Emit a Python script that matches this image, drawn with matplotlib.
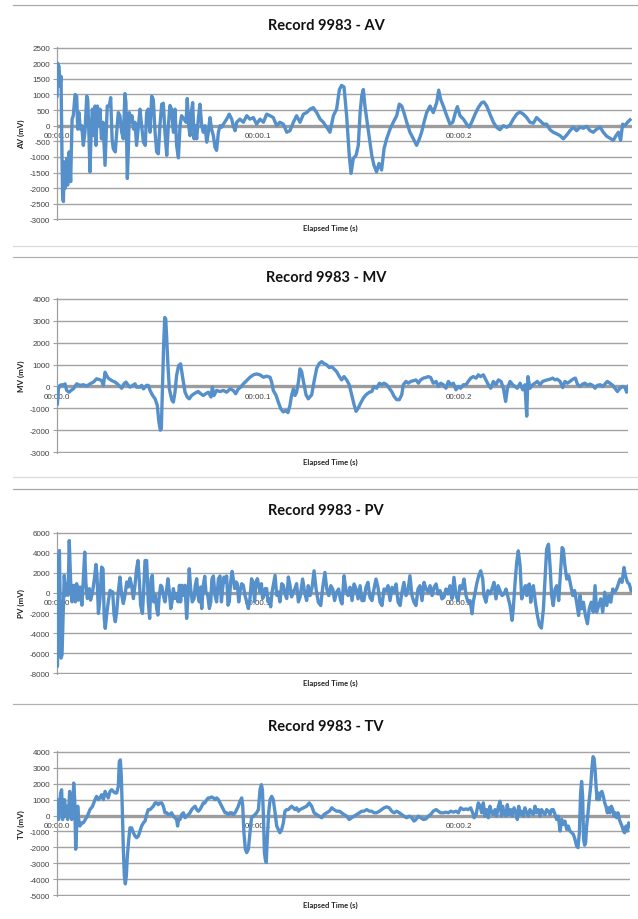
import matplotlib

matplotlib.use("Agg")
import matplotlib.pyplot as plt
from matplotlib.lines import Line2D

plt.rcParams["axes.unicode_minus"] = False

# time (ms) and value (mV) pairs
av_points = [
    (0.0, 950), (0.3, 2000), (1.0, 1900), (1.5, 1270), (2.0, 1580), (2.5, -1050), (2.8, -2320),
    (3.2, -2430), (3.6, -1160), (4.1, -2000), (4.8, -1050), (5.3, -1900), (6.0, -840), (6.8, -1790),
    (7.5, 210), (8.1, 320), (9.0, 1000), (9.8, 950), (10.3, -110), (10.9, 420), (11.6, -110),
    (12.3, 0), (13.1, -630), (13.9, -210), (14.8, 950), (15.3, 840), (15.9, -320), (16.4, -1480),
    (17.1, 0), (17.6, 530), (18.2, -320), (18.9, 630), (19.4, -630), (20.1, 630), (20.7, 0),
    (21.4, 530), (22.1, -420), (22.9, 110), (23.9, -1270), (24.4, -420), (25.0, 630), (26.0, 630),
    (26.7, 900), (27.4, -420), (28.0, -740), (29.0, -840), (29.7, -210), (30.5, 420), (31.3, 320),
    (32.2, -210), (33.0, -420), (33.8, 1030), (34.3, 740), (35.0, -1690), (35.5, -740), (36.0, 420),
    (36.7, 110), (37.3, 320), (38.1, -110), (38.8, 110), (39.6, -630), (40.5, 0), (41.3, 530),
    (42.1, 0), (43.0, -530), (43.9, -630), (44.6, 420), (45.4, 530), (46.3, -210), (47.1, 950),
    (47.9, 840), (48.8, -210), (49.6, -840), (50.4, -900), (51.2, 0), (52.1, 690), (52.9, 720),
    (53.7, -210), (54.6, -950), (55.4, 0), (56.2, 650), (57.0, 530), (57.9, -210), (58.7, 530),
    (59.5, -630), (60.4, -1030), (61.2, 0), (62.0, 320), (63.2, 210), (64.2, 110), (64.8, 870),
    (65.5, 0), (66.2, -320), (66.8, 420), (67.5, 740), (68.2, -420), (68.7, 0), (69.5, -420),
    (70.3, 210), (71.1, 690), (72.0, 0), (72.8, -210), (73.6, 0), (74.5, -530), (75.3, -210),
    (76.1, 260), (76.9, -110), (77.8, -320), (78.6, -690), (79.4, -790), (80.3, -210), (81.1, 0),
    (81.9, -50), (82.8, 50), (84.4, 210), (85.7, 370), (86.9, 210), (87.7, 0), (88.6, -160),
    (89.4, 110), (91.0, 210), (92.7, 110), (94.4, 320), (96.0, 210), (97.7, 260), (99.3, 50),
    (101.0, 210), (102.7, 110), (104.3, 370), (106.0, 320), (107.6, 260), (109.3, 0), (110.9, 110),
    (112.6, 50), (114.3, -210), (115.9, -160), (117.6, 110), (119.2, 320), (120.9, 110),
    (122.6, 370), (124.2, 420), (125.9, 530), (127.5, 580), (129.2, 420), (130.9, 210), (132.5, 110),
    (134.2, -50), (135.8, -210), (137.5, 320), (139.1, 530), (140.5, 1160), (141.6, 1290),
    (142.8, 1240), (144.1, 320), (145.4, -950), (146.3, -1530), (147.4, -1050), (148.8, -950),
    (149.9, -630), (150.8, 420), (151.6, 950), (152.4, 1160), (153.2, 630), (154.1, 210),
    (155.4, -420), (156.6, -950), (157.7, -1270), (159.0, -1480), (160.2, -1210), (161.5, -1420),
    (162.7, -740), (164.0, -420), (165.7, -110), (167.3, 110), (169.0, 320), (170.3, 690),
    (171.5, 630), (172.6, 420), (174.0, 110), (175.6, -210), (177.3, -420), (178.9, -630),
    (180.3, -420), (181.4, -210), (182.6, 110), (183.9, 420), (185.6, 630), (187.2, 420),
    (188.9, 740), (189.9, 1140), (190.9, 840), (192.2, 630), (193.9, 320), (195.5, 50), (196.9, 110),
    (198.2, 420), (199.2, 610), (200.5, 320), (202.2, 210), (203.8, 50), (205.1, -50), (206.3, 110),
    (208.0, 370), (209.6, 580), (211.3, 740), (212.4, 760), (213.8, 630), (215.4, 370), (217.1, 110),
    (218.7, -50), (220.4, -130), (222.1, 0), (223.7, -50), (225.4, 20), (227.0, 210), (228.7, 370),
    (230.3, 440), (232.0, 370), (233.7, 260), (235.3, 110), (237.0, 80), (238.6, 260), (240.3, 160),
    (242.0, 50), (243.6, 50), (245.3, -130), (246.9, -210), (248.6, -260), (250.3, -320),
    (251.9, -420), (253.6, -300), (255.2, -160), (256.9, -50), (258.5, -160), (260.2, -50),
    (261.9, -80), (263.5, -20), (265.2, -160), (266.8, -210), (268.5, -110), (270.2, -50),
    (271.8, -210), (273.5, -340), (275.1, -400), (276.8, -470), (278.1, -320), (279.3, -210),
    (280.4, -470), (281.4, 50), (282.6, 0), (283.8, 110), (285.1, 190),
]

mv_points = [
    (0.2, -790), (0.7, -110), (1.5, 50), (2.3, 80), (3.2, 50), (4.0, 120), (4.8, -180), (6.0, -260),
    (7.0, -180), (8.1, -110), (9.8, 120), (11.4, 50), (13.1, 80), (14.8, 20), (16.4, 120),
    (18.1, 200), (19.7, 350), (20.9, 320), (22.2, 270), (23.1, 50), (23.9, 650), (24.7, 500),
    (25.5, 380), (27.2, 270), (28.9, 200), (30.5, 80), (32.2, -80), (33.3, 120), (34.3, 200),
    (35.5, 50), (36.3, -30), (37.6, 50), (38.8, 120), (39.6, -30), (41.3, -30), (42.1, 50),
    (43.0, -110), (44.6, 50), (45.4, 50), (46.3, -180), (47.6, -410), (48.8, -560), (49.9, -860),
    (50.7, -1620), (51.4, -1990), (51.9, -1920), (52.4, -260), (53.1, 2010), (53.6, 3140),
    (54.1, 3070), (54.6, 2160), (55.2, 950), (55.9, -110), (56.6, -410), (57.2, -630), (57.9, -710),
    (58.7, -260), (59.5, 500), (60.5, 950), (61.5, 1030), (62.5, 420), (63.7, -260), (64.8, -480),
    (65.8, -560), (67.0, -410), (68.2, -330), (69.5, -260), (70.3, -230), (71.5, -330), (72.8, -410),
    (74.0, -330), (75.3, -260), (76.6, -480), (77.3, -30), (78.1, -410), (79.4, -180), (81.1, -230),
    (82.8, -180), (84.4, -260), (86.1, -110), (87.7, -180), (88.9, -330), (90.2, -110), (91.4, -30),
    (92.7, 120), (94.4, 270), (96.0, 420), (97.7, 530), (99.3, 570), (101.0, 530), (102.7, 420),
    (104.3, 470), (106.0, 420), (106.8, 200), (107.6, -180), (109.0, -410), (110.1, -710),
    (111.3, -1010), (112.6, -1160), (113.8, -1090), (114.9, -1190), (115.9, -860), (116.7, -410),
    (117.6, -110), (118.4, -410), (119.2, -260), (120.1, 200), (120.9, 800), (121.7, 680),
    (122.6, 230), (123.9, -380), (125.0, -560), (126.7, -380), (127.9, 230), (129.2, 830),
    (130.5, 1050), (131.7, 1130), (132.8, 1050), (134.2, 980), (135.5, 860), (136.7, 900),
    (137.8, 800), (139.1, 680), (140.5, 450), (141.6, 300), (142.8, 450), (144.1, 300), (145.4, 80),
    (146.6, -380), (147.8, -830), (148.8, -1130), (149.9, -980), (151.1, -750), (152.4, -530),
    (153.7, -380), (155.4, -260), (156.6, -230), (157.7, 0), (159.0, -80), (160.4, 150), (161.5, 80),
    (162.7, 150), (164.0, 80), (165.3, -80), (166.5, -230), (167.7, -450), (169.0, -600),
    (170.3, -600), (171.5, -380), (172.3, 80), (173.6, 230), (174.8, 150), (176.0, 230), (177.3, 260),
    (178.6, 300), (179.8, 150), (180.9, 300), (182.3, 380), (183.6, 410), (184.7, 450), (185.9, 410),
    (187.2, 150), (188.6, 230), (189.7, 0), (190.9, 150), (192.2, 80), (193.5, -80), (194.7, 230),
    (195.9, 80), (197.2, 150), (198.5, -150), (199.7, 0), (200.8, -80), (202.2, 80), (203.5, 80),
    (204.6, 230), (205.8, 380), (207.1, 450), (208.5, 380), (209.6, 530), (210.8, 450), (212.1, 530),
    (213.4, 300), (214.6, 80), (215.8, -80), (217.1, 230), (218.4, 80), (219.6, 300), (220.9, 230),
    (222.1, -80), (223.2, -680), (224.1, -80), (225.4, 230), (226.7, 80), (227.9, 0), (229.0, -80),
    (230.4, 150), (231.7, -150), (232.8, 80), (233.7, -1350), (234.3, 450), (235.3, -80), (236.7, 80),
    (237.8, 150), (239.0, 230), (240.3, 80), (241.6, 230), (242.8, 270), (243.9, 300), (245.3, 330),
    (246.6, 380), (247.8, 300), (248.9, 330), (250.3, 230), (251.6, -50), (252.7, 230), (253.9, 150),
    (255.2, 230), (256.6, 330), (257.9, 380), (258.9, 110), (260.2, 0), (261.5, 110), (262.7, 150),
    (263.9, 50), (265.2, 110), (266.5, 50), (267.7, -80), (268.8, 50), (270.2, 80), (271.5, 0),
    (272.6, 110), (273.8, 230), (275.1, 150), (276.5, 50), (277.6, -80), (278.8, -230), (280.1, -80),
    (281.4, 0), (282.6, -50), (283.4, -260), (284.2, 0),
]

pv_points = [
    (0.0, 3720), (0.2, -7300), (1.2, 4210), (2.0, -6480), (2.5, -6150), (3.2, -890), (3.6, 1740),
    (4.3, -230), (4.8, 920), (5.5, -230), (6.1, 5200), (6.8, 1090), (7.5, -890), (8.3, 760),
    (9.1, -890), (9.8, 920), (10.6, -720), (11.4, 590), (12.4, -1220), (13.1, 1410), (13.8, 4050),
    (14.4, 920), (15.1, -560), (16.1, 430), (16.7, -720), (17.7, 100), (18.6, 1410), (19.4, 2830),
    (19.9, 1740), (20.6, -2040), (21.4, -560), (22.2, 2570), (22.9, 2400), (23.5, -2530),
    (24.0, -3520), (24.7, -2200), (25.5, -890), (26.4, 260), (27.2, 100), (27.7, 100), (28.4, -2200),
    (29.0, -2860), (29.7, -1880), (30.5, 100), (31.3, 1580), (32.2, -230), (33.0, -1050),
    (33.8, -230), (34.7, 1090), (35.5, 590), (36.3, 1480), (37.1, 760), (38.0, -560), (38.8, 760),
    (39.6, 2400), (40.3, 3220), (41.0, 1090), (41.6, -1220), (42.5, -2040), (43.0, -230),
    (43.8, 3220), (44.6, 3220), (45.4, -890), (46.1, -2530), (46.8, 1410), (47.4, 1740), (48.1, -890),
    (48.9, -230), (49.6, -1550), (50.2, -2200), (50.9, -230), (51.6, 760), (52.2, 590), (52.9, -230),
    (53.7, -890), (54.6, 430), (55.2, 1410), (55.9, 100), (56.6, -1550), (57.2, -890), (57.9, 430),
    (58.7, -560), (59.5, -70), (60.2, -890), (60.9, 760), (61.5, -890), (62.2, 760), (62.9, -230),
    (63.7, 760), (64.5, -2530), (65.2, -230), (65.8, 2400), (66.5, 430), (67.3, -890), (68.2, -560),
    (68.8, 760), (69.5, 1410), (70.1, -230), (70.8, -890), (71.5, 590), (72.0, -1550), (72.8, 760),
    (73.5, 1650), (74.1, 100), (75.0, -230), (75.8, -1550), (76.5, -890), (77.1, 1410), (77.8, 1680),
    (78.6, -230), (79.4, -890), (80.3, 1410), (81.1, 1680), (81.8, -890), (82.4, 430), (83.1, 1580),
    (83.7, 1090), (84.4, 1680), (85.1, -1220), (85.7, -890), (86.4, 1090), (87.1, 2140), (87.7, 1410),
    (88.4, 430), (89.1, 1090), (89.7, 920), (90.4, -890), (91.0, 100), (91.9, 920), (92.7, 760),
    (93.5, -230), (94.4, -890), (95.2, -1550), (96.0, -560), (96.8, 1410), (97.7, 920), (98.3, -890),
    (99.0, 1090), (99.7, 1410), (100.3, 760), (101.0, 100), (101.7, 920), (102.3, -560),
    (103.0, -230), (103.6, 430), (104.3, 430), (105.0, -890), (105.6, -560), (106.3, -1380),
    (107.0, 100), (107.6, 760), (108.5, 1740), (109.3, -230), (110.1, 100), (110.9, -890),
    (111.8, 920), (112.6, 760), (113.4, -70), (114.3, -560), (115.1, 1580), (115.9, 760),
    (116.7, -390), (117.6, 100), (118.4, 430), (119.2, 920), (120.1, -890), (120.9, -430),
    (122.2, 1380), (123.2, 70), (124.2, -760), (125.0, 720), (125.9, -260), (126.9, 560),
    (127.9, 2200), (128.9, 390), (130.0, -920), (131.2, -1250), (132.2, 560), (133.3, 2040),
    (134.2, 390), (135.2, -260), (136.2, 720), (137.2, 390), (138.1, -760), (139.1, 70), (140.1, 390),
    (141.1, -760), (141.8, -1090), (142.8, 1710), (143.8, 230), (144.8, -260), (145.8, 560),
    (146.8, -760), (147.8, 890), (148.8, 390), (149.8, -590), (150.8, 720), (151.7, -760),
    (152.7, -760), (153.7, 560), (154.7, 1050), (155.7, -430), (156.7, -760), (157.7, 390),
    (158.7, 1380), (159.7, 560), (160.7, -920), (161.7, -1250), (162.7, 390), (163.7, 230),
    (164.7, 720), (165.7, -760), (166.7, 560), (167.7, 70), (168.7, 890), (169.7, -920),
    (170.7, -1250), (171.6, 70), (172.6, 1050), (173.6, -260), (174.6, 230), (175.6, 1710),
    (176.6, -260), (177.6, -920), (178.6, -1250), (179.6, 390), (180.6, 720), (181.6, -760),
    (182.6, 1050), (183.6, 390), (184.6, 70), (185.6, 720), (186.6, -260), (187.6, 560), (188.6, 890),
    (189.6, -100), (190.6, 230), (191.5, -590), (192.5, -430), (193.5, 390), (194.5, -100),
    (195.5, 720), (196.5, -590), (197.5, 1550), (198.5, -260), (199.5, -760), (200.5, 720),
    (201.5, 390), (202.5, 1380), (203.5, -260), (204.5, -920), (205.5, -760), (206.5, -2070),
    (207.1, -920), (208.0, 70), (208.8, 890), (209.8, 1710), (210.8, 2200), (211.8, 1380),
    (212.4, -260), (213.4, -920), (214.4, 230), (215.4, -100), (216.4, 390), (217.4, 1050),
    (218.4, -590), (219.4, 720), (220.4, 230), (221.4, -260), (222.4, -100), (223.4, 390),
    (224.4, -430), (225.4, -1250), (226.4, -2730), (227.0, -1580), (227.9, 1050), (228.7, 3030),
    (229.5, 4180), (230.4, 2700), (231.2, -590), (232.0, 70), (233.0, 720), (233.7, -260),
    (234.3, 720), (235.0, 890), (235.7, -920), (236.3, 390), (237.0, 720), (238.0, -920),
    (239.0, -2240), (240.0, -3220), (241.0, -3490), (242.0, -1580), (242.8, 1380), (243.6, 4340),
    (244.5, 4840), (245.3, 2700), (246.1, -260), (246.9, -1250), (247.8, 390), (248.6, 720),
    (249.6, -760), (250.3, 1380), (251.3, 4510), (251.9, 4340), (252.7, 2700), (253.6, 1380),
    (254.6, 1710), (255.6, 720), (256.6, -260), (257.5, 230), (258.5, -920), (259.5, -2240),
    (260.2, -260), (261.0, -1580), (261.9, -920), (262.9, -2240), (263.9, -3060), (264.8, -1580),
    (265.8, -920), (266.8, -1910), (267.7, 720), (268.5, -1910), (269.5, -1250), (270.5, -590),
    (271.5, -1910), (272.5, 70), (273.5, -1250), (274.5, -260), (275.5, -920), (276.5, 390),
    (277.5, 70), (278.4, 390), (279.3, 890), (280.1, 1380), (281.1, 1050), (282.1, 2530),
    (282.8, 1710), (283.8, 1050), (284.7, 890), (285.6, 230),
]

tv_points = [
    (0.0, 990), (0.3, 790), (0.8, -250), (1.3, 580), (1.8, 1410), (2.3, 1610), (2.8, -250),
    (3.3, 370), (3.8, 990), (4.3, -40), (4.8, 580), (5.3, -250), (5.8, 370), (6.3, 1510), (6.8, 990),
    (7.3, -250), (7.8, 170), (8.3, 2030), (8.8, 990), (9.3, -2110), (9.8, -660), (10.3, 580),
    (10.8, -250), (11.4, -660), (12.3, -460), (13.1, -460), (14.1, -250), (15.1, -40), (16.4, 370),
    (17.7, 580), (18.9, 990), (19.7, 1200), (20.6, 990), (21.4, 1100), (22.2, 1300), (23.1, 990),
    (23.9, 1510), (24.7, 1300), (25.5, 1100), (26.4, 1510), (27.2, 1610), (28.0, 1510), (28.9, 1410),
    (29.7, 1410), (30.5, 1820), (31.0, 3370), (31.5, 3480), (32.0, 2440), (32.5, 370), (33.0, -2110),
    (33.5, -3770), (34.0, -4280), (34.5, -3770), (35.0, -2530), (35.7, -1490), (36.3, -770),
    (37.1, -770), (38.0, -1080), (38.8, -1280), (39.6, -1390), (40.5, -1280), (41.3, -970),
    (42.1, -660), (43.0, -460), (43.8, -350), (44.6, 60), (45.4, 370), (46.3, 370), (47.1, 480),
    (47.9, 580), (48.8, 790), (49.6, 790), (50.4, 680), (51.2, 790), (52.1, 790), (52.9, 580),
    (53.7, 170), (54.6, 170), (55.4, 60), (56.2, 60), (57.0, 170), (57.9, -40), (58.7, -140),
    (59.5, -250), (60.0, -660), (60.5, -250), (61.2, -250), (62.0, 60), (62.9, 170), (63.7, -140),
    (64.5, -40), (65.3, 60), (66.2, 170), (67.0, 370), (67.8, 480), (68.7, 580), (69.5, 370),
    (70.3, 270), (71.1, 370), (72.0, 580), (72.8, 790), (73.6, 790), (74.5, 990), (75.3, 1100),
    (76.1, 1100), (76.9, 1160), (77.8, 1100), (78.6, 990), (79.4, 1100), (80.3, 990), (81.1, 790),
    (81.9, 580), (82.8, 370), (83.6, 170), (84.4, 170), (85.2, 60), (86.1, 170), (86.9, 170),
    (87.7, 60), (88.6, 170), (89.4, 370), (90.2, 580), (91.0, 890), (91.9, 1100), (92.4, 580),
    (93.0, -1080), (93.7, -2110), (94.4, -2320), (95.2, -2110), (96.0, -1080), (96.8, -140),
    (97.7, -40), (98.5, 60), (99.3, 170), (100.2, 370), (101.0, 1610), (101.7, 1930), (102.2, 1610),
    (102.7, -40), (103.2, -2320), (103.6, -2730), (104.1, -2940), (104.6, -1490), (105.3, 170),
    (106.0, 990), (106.8, 1200), (107.6, 990), (108.5, 170), (109.3, -660), (110.1, -870),
    (110.9, -1080), (111.8, -870), (112.6, -460), (113.4, 270), (114.3, 370), (115.1, 370),
    (115.9, 480), (116.7, 580), (117.6, 480), (118.4, 370), (119.2, 480), (120.1, 270), (120.9, 370),
    (122.6, 480), (124.2, 580), (125.5, 790), (126.7, 580), (127.9, 170), (129.2, 60), (130.5, -40),
    (131.7, -140), (132.8, 60), (134.2, 170), (135.5, 270), (136.7, 480), (137.8, 370), (139.1, 270),
    (140.5, 270), (141.6, 170), (142.8, 60), (144.1, -40), (145.4, -250), (146.6, -140), (147.8, -40),
    (149.1, 60), (150.4, 170), (151.6, 270), (152.7, 270), (154.1, 370), (155.4, 270), (156.6, 270),
    (157.7, 170), (159.0, 170), (160.4, 270), (161.5, 370), (162.7, 480), (164.0, 540), (165.3, 480),
    (166.5, 270), (167.7, 170), (169.0, 270), (170.3, 170), (171.5, 60), (172.6, -40), (174.0, -140),
    (175.3, -40), (176.5, -140), (177.6, -350), (178.6, -250), (179.8, -40), (180.9, -140),
    (182.3, -250), (183.6, -210), (184.7, -40), (185.9, 60), (187.2, 270), (188.6, 370), (189.7, 270),
    (190.9, 170), (192.2, 170), (193.5, 210), (194.7, 170), (195.9, 270), (197.2, 210), (198.5, 270),
    (199.7, 170), (200.8, 480), (202.2, 370), (203.5, 410), (204.6, 370), (205.8, 480), (206.8, 170),
    (207.5, -140), (208.5, 60), (209.6, 790), (210.5, 580), (211.3, 170), (212.1, 790), (212.9, -40),
    (213.8, 370), (214.6, -140), (215.4, 580), (216.3, 170), (217.1, 60), (217.9, 370), (218.7, -40),
    (219.6, 580), (220.4, 890), (221.1, -40), (221.7, 580), (222.4, 170), (223.4, -40), (224.0, 680),
    (224.9, 60), (225.7, 370), (226.5, -40), (227.4, 480), (228.4, 170), (229.0, -250), (229.7, 580),
    (230.4, 60), (231.2, 270), (232.0, -40), (232.8, 480), (233.7, 170), (234.5, -40), (235.3, 370),
    (236.2, 170), (237.0, 60), (237.8, 580), (238.6, 170), (239.5, 370), (240.3, -40), (241.1, 370),
    (242.0, 170), (242.8, 60), (243.6, 370), (244.5, 270), (245.3, 60), (246.1, 370), (246.9, 370),
    (247.8, 60), (248.6, -250), (249.4, -40), (250.3, -970), (251.1, -250), (251.9, -560),
    (252.7, -350), (253.6, -870), (254.4, -660), (255.2, -970), (256.1, -1080), (256.9, -1180),
    (257.7, -1490), (258.5, -1900), (259.2, -2010), (259.9, -1080), (260.5, 1410), (261.0, 2130),
    (261.5, 1200), (262.0, -1490), (262.5, -1860), (263.0, -1700), (263.5, -660), (264.2, 170),
    (264.8, 990), (265.5, 1820), (266.2, 3060), (266.7, 3680), (267.2, 3580), (267.7, 2860),
    (268.2, 1820), (268.7, 990), (269.2, 1410), (269.8, 990), (270.5, 1410), (271.1, 1510),
    (271.8, 1200), (272.5, 790), (273.1, 580), (273.8, 170), (274.5, 480), (275.1, 170), (275.8, 580),
    (276.5, 370), (277.1, -40), (277.8, 170), (278.4, -140), (279.1, 170), (279.8, -250),
    (280.4, -460), (281.1, -660), (281.8, -970), (282.4, -1080), (283.1, -660), (283.8, -970),
    (284.4, -460), (285.1, -660),
]

channels = ["AV", "MV", "PV", "TV"]
y_limits = [(-3000, 2500), (-3000, 4000), (-8000, 6000), (-5000, 4000)]
y_steps = [500, 1000, 2000, 1000]
tick_ms = [0, 100, 200]
tick_labels = ["00:00.0", "00:00.1", "00:00.2"]

W, H = 638, 920
LINE = "#5590cb"
GRID = "#a3a3a3"
TXT = "#404040"

# plot boxes in pixels: left, top, right, bottom
boxes = [(57, 48, 632, 221), (57, 299, 628, 454), (57, 533, 632, 675), (57, 752, 630, 897)]
title_y = [26, 278, 511, 727]
xlabel_y = [228, 462, 683, 905]
borders = [(6, "#a8a8a8"), (247, "#dadada"), (258, "#b0b0b0"), (478, "#dadada"),
           (490, "#a8a8a8"), (705, "#b0b0b0")]

fig = plt.figure(figsize=(W / 100, H / 100), dpi=100)

for yb, col in borders:
    fig.add_artist(Line2D([13 / W, 1.0], [1 - yb / H] * 2, color=col, lw=0.9))

series = [av_points, mv_points, pv_points, tv_points]
for i, name in enumerate(channels):
    l, t, r, b = boxes[i]
    ax = fig.add_axes([l / W, 1 - b / H, (r - l) / W, (b - t) / H])
    ts = [p[0] for p in series[i]]
    vs = [p[1] for p in series[i]]
    lo, hi = y_limits[i]
    pad = (hi - lo) * 0.004
    ax.set_ylim(lo - pad, hi + pad)
    ax.set_xlim(0, (r - l) / 2.01)
    ax.set_yticks(range(lo, hi + 1, y_steps[i]))
    ax.grid(axis="y", color=GRID, lw=1.0)
    ax.set_axisbelow(True)
    ax.axhline(0, color="#9c9c9c", lw=2.4, zorder=1.5)
    ax.plot(ts, vs, color=LINE, lw=2.4, solid_joinstyle="round", zorder=3)

    for s in ("top", "right"):
        ax.spines[s].set_visible(False)
    ax.spines["left"].set_color("#a0a0a0")
    ax.spines["left"].set_linewidth(0.9)
    ax.spines["bottom"].set_position(("data", 0))
    ax.spines["bottom"].set_visible(False)

    ax.set_xticks(tick_ms)
    ax.set_xticklabels(tick_labels)
    ax.tick_params(axis="x", length=0, pad=4.5, labelsize=5.8, labelcolor=TXT)
    ax.tick_params(axis="y", length=3, color="#a0a0a0", width=0.8, pad=2,
                   labelsize=5.8, labelcolor=TXT)
    for lab in ax.get_xticklabels() + ax.get_yticklabels():
        lab.set_fontfamily("Liberation Sans")

    fig.text(326 / W, 1 - title_y[i] / H, f"Record 9983 - {name}", ha="center", va="center",
             fontsize=10.5, fontweight="bold", family="Lato", color="#111111")
    fig.text(330 / W, 1 - xlabel_y[i] / H, "Elapsed Time (s)", ha="center", va="center",
             fontsize=5.5, fontweight="bold", family="Lato", color="#222222")
    fig.text(21 / W, 1 - (t + b) / 2 / H, f"{name} (mV)", ha="center", va="center",
             rotation=90, fontsize=5.8, fontweight="bold", family="Lato", color="#222222")

fig.savefig("out.png", dpi=100)
